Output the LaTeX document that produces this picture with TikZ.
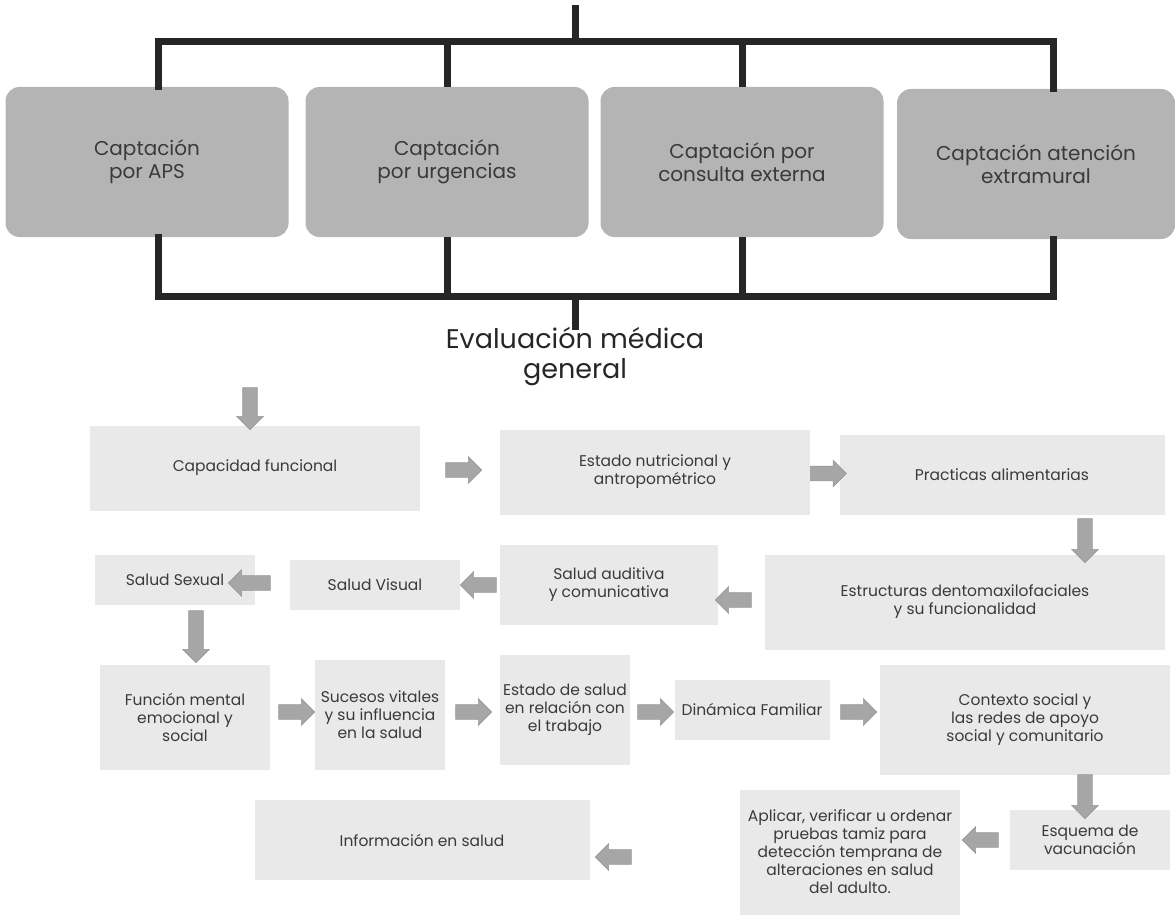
\documentclass[tikz,border=0pt]{standalone}
\usepackage{fontspec}
\setmainfont{Poppins}
\usetikzlibrary{shapes.arrows,calc}
\definecolor{topfill}{HTML}{B4B4B4}
\definecolor{lightfill}{HTML}{E9E9E9}
\definecolor{arrowfill}{HTML}{A6A6A6}
\definecolor{txt}{HTML}{3A3A3A}
\tikzset{
  topbox/.style={rounded corners=14pt, fill=topfill, minimum width=283pt, minimum height=150pt, align=center, font=\fontsize{20}{23}\selectfont, text=txt, inner sep=2pt},
  stepbox/.style={fill=lightfill, align=center, font=\fontsize{15.5}{18}\selectfont, text=txt, inner sep=2pt},
  bar/.style={line width=7pt, black!85},
  blockarrow/.style={single arrow, fill=arrowfill, draw=gray!80, line width=0.6pt, minimum height=36pt, inner xsep=0pt, inner ysep=7pt, single arrow head extend=6pt},
}
\begin{document}
\begin{tikzpicture}[x=1pt,y=-1pt]
\useasboundingbox (0,0) rectangle (1175,915);
% top boxes
\node[topbox] (b1) at (147,162) {Captación\\por APS};
\node[topbox] (b2) at (447,162) {Captación\\por urgencias};
\node[topbox] (b3) at (742,162) {Captación por\\consulta externa};
\node[topbox, minimum width=278pt] (b4) at (1036,164) {Captación atención\\extramural};
\coordinate (topin) at (575,5);
\coordinate (barT) at (575,42);
\coordinate (barB) at (575,296);
\coordinate (botout) at (575,330);
\coordinate (d1) at (158,0);
\coordinate (d4) at (1053,0);
\draw[bar] (topin) -- (barT);
\draw[bar, line cap=rect] (d1 |- b1.north) -- (d1 |- barT) -- (d4 |- barT) -- (d4 |- b4.north);
\draw[bar] (b2.north) -- (b2.north |- barT);
\draw[bar] (b3.north) -- (b3.north |- barT);
\draw[bar, line cap=rect] (d1 |- b1.south) -- (d1 |- barB) -- (d4 |- barB) -- (d4 |- b4.south);
\draw[bar] (b2.south) -- (b2.south |- barB);
\draw[bar] (b3.south) -- (b3.south |- barB);
\draw[bar] (barB) -- (botout);
% title
\node[font=\fontsize{27}{30}\selectfont, text=black!85, align=center] (title) at (575,356) {Evaluación médica\\general};
% row 1
\node[stepbox, minimum width=330pt, minimum height=85pt] (r1a) at (255,468) {Capacidad funcional};
\node[stepbox, minimum width=310pt, minimum height=85pt] (r1b) at (655,472) {Estado nutricional y\\antropométrico};
\node[stepbox, minimum width=325pt, minimum height=80pt] (r1c) at (1002,475) {Practicas alimentarias};
% row 2
\node[stepbox, minimum width=400pt, minimum height=95pt] (r2a) at (965,602) {Estructuras dentomaxilofaciales\\y su funcionalidad};
\node[stepbox, minimum width=218pt, minimum height=80pt] (r2b) at (609,585) {Salud auditiva\\y comunicativa};
\node[stepbox, minimum width=170pt, minimum height=50pt] (r2c) at (375,585) {Salud Visual};
\node[stepbox, minimum width=160pt, minimum height=50pt] (r2d) at (175,580) {Salud Sexual};
% row 3
\node[stepbox, minimum width=170pt, minimum height=105pt] (r3a) at (185,717) {Función mental\\emocional y\\social};
\node[stepbox, minimum width=130pt, minimum height=110pt] (r3b) at (380,715) {Sucesos vitales\\y su influencia\\en la salud};
\node[stepbox, minimum width=130pt, minimum height=110pt] (r3c) at (565,710) {Estado de salud\\en relación con\\el trabajo};
\node[stepbox, minimum width=155pt, minimum height=60pt] (r3d) at (752,710) {Dinámica Familiar};
\node[stepbox, minimum width=290pt, minimum height=110pt] (r3e) at (1025,720) {Contexto social y\\las redes de apoyo\\social y comunitario};
% row 4
\node[stepbox, minimum width=160pt, minimum height=60pt] (r4a) at (1090,840) {Esquema de\\vacunación};
\node[stepbox, minimum width=220pt, minimum height=125pt] (r4b) at (850,852) {Aplicar, verificar u ordenar\\pruebas tamiz para\\detección temprana de\\alteraciones en salud\\del adulto.};
\node[stepbox, minimum width=335pt, minimum height=80pt] (r4c) at (422,840) {Información en salud};
% arrows
\node[blockarrow, rotate=-90, minimum height=42pt] (a0) at (250,405) {};
\node[blockarrow] (a1) at ($(r1a.east)!0.5!(r1b.west)$) {};
\node[blockarrow] (a2) at ($(r1b.east)!0.5!(r1c.west)$) {};
\node[blockarrow, rotate=-90, minimum height=44pt] (a3) at (1085,537) {};
\node[blockarrow, rotate=180] (a4) at (737,600) {};
\node[blockarrow, rotate=180] (a5) at (482,585) {};
\node[blockarrow, rotate=180, minimum height=42pt] (a6) at (253,583) {};
\node[blockarrow, rotate=-90, minimum height=52pt] (a7) at (196,633) {};
\node[blockarrow] (a8) at (293,712) {};
\node[blockarrow] (a9) at (470,712) {};
\node[blockarrow] (a10) at (652,712) {};
\node[blockarrow] (a11) at (855,712) {};
\node[blockarrow, rotate=-90, minimum height=44pt] (a12) at (1085,793) {};
\node[blockarrow, rotate=180] (a13) at (984,840) {};
\node[blockarrow, rotate=180] (a14) at (617,857) {};
\end{tikzpicture}
\end{document}
